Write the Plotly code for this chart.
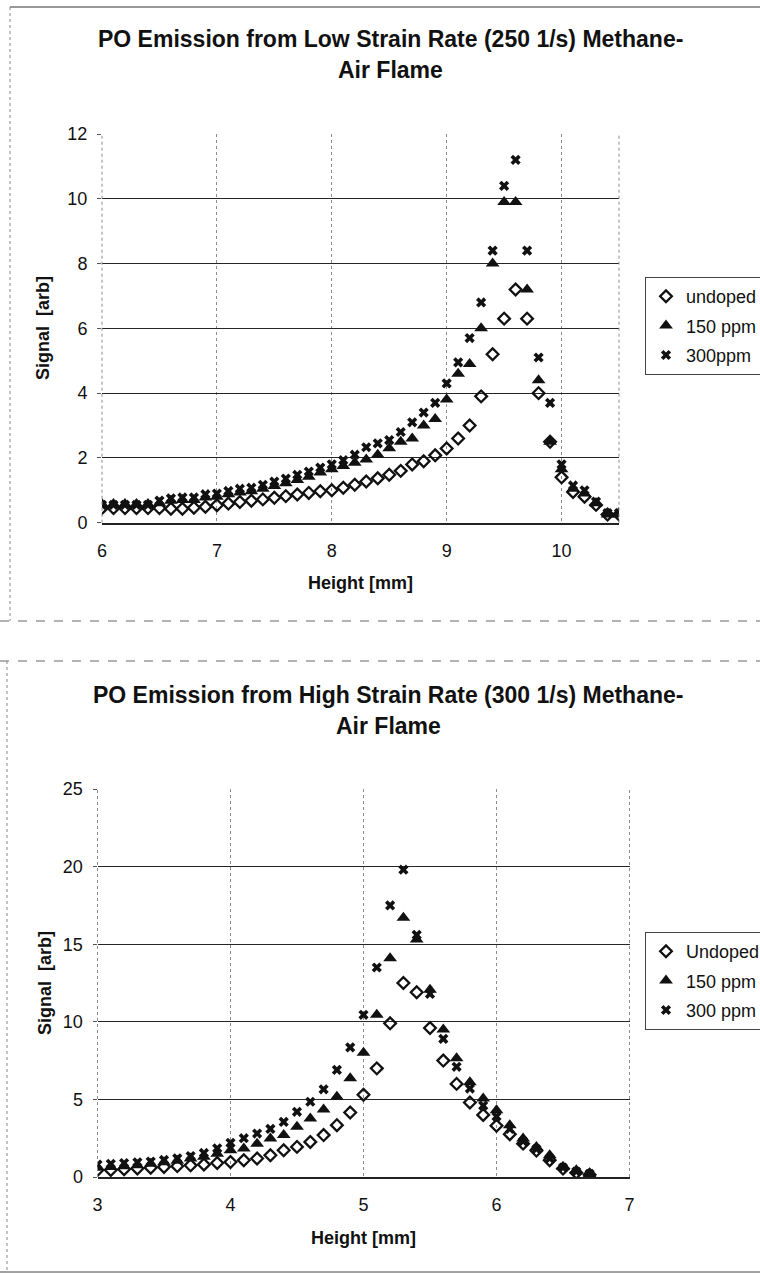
import plotly.graph_objects as go

# ---------------- data: top chart (low strain rate) ----------------
top_height = [6.0, 6.1, 6.2, 6.3, 6.4, 6.5, 6.6, 6.7, 6.8, 6.9,
              7.0, 7.1, 7.2, 7.3, 7.4, 7.5, 7.6, 7.7, 7.8, 7.9,
              8.0, 8.1, 8.2, 8.3, 8.4, 8.5, 8.6, 8.7, 8.8, 8.9,
              9.0, 9.1, 9.2, 9.3, 9.4, 9.5, 9.6, 9.7, 9.8, 9.9,
              10.0, 10.1, 10.2, 10.3, 10.4, 10.5]
top_undoped = [0.45, 0.45, 0.45, 0.45, 0.45, 0.45, 0.43, 0.43, 0.46, 0.49,
               0.54, 0.59, 0.64, 0.68, 0.72, 0.77, 0.82, 0.87, 0.92, 0.97,
               1.0, 1.08, 1.17, 1.27, 1.37, 1.48, 1.6, 1.8, 1.9, 2.08,
               2.29, 2.6, 3.0, 3.9, 5.2, 6.3, 7.2, 6.3, 4.0, 2.5,
               1.4, 0.95, 0.8, 0.55, 0.25, 0.25]
top_150 = [0.58, 0.58, 0.58, 0.58, 0.58, 0.6, 0.68, 0.7, 0.7, 0.78,
           0.8, 0.88, 0.93, 0.97, 1.05, 1.13, 1.22, 1.32, 1.42, 1.55,
           1.65, 1.75, 1.85, 1.95, 2.1, 2.3, 2.5, 2.6, 3.0, 3.2,
           3.8, 4.6, 4.9, 6.0, 8.0, 9.9, 9.9, 7.2, 4.4, 2.5,
           1.65, 1.05, 0.9, 0.6, 0.25, 0.25]
top_300 = [0.55, 0.55, 0.55, 0.55, 0.55, 0.68, 0.75, 0.78, 0.78, 0.88,
           0.9, 0.98, 1.05, 1.08, 1.17, 1.27, 1.36, 1.48, 1.58, 1.7,
           1.8, 1.93, 2.1, 2.33, 2.45, 2.55, 2.8, 3.1, 3.4, 3.7,
           4.3, 4.95, 5.7, 6.8, 8.4, 10.4, 11.2, 8.4, 5.1, 3.7,
           1.8, 1.15, 1.0, 0.65, 0.3, 0.3]
top_names = ["undoped", "150 ppm", "300ppm"]
top_xticks = [6, 7, 8, 9, 10]
top_yticks = [0, 2, 4, 6, 8, 10, 12]

# ---------------- data: bottom chart (high strain rate) ----------------
bot_height = [3.0, 3.1, 3.2, 3.3, 3.4, 3.5, 3.6, 3.7, 3.8, 3.9,
              4.0, 4.1, 4.2, 4.3, 4.4, 4.5, 4.6, 4.7, 4.8, 4.9,
              5.0, 5.1, 5.2, 5.3, 5.4, 5.5, 5.6, 5.7, 5.8, 5.9,
              6.0, 6.1, 6.2, 6.3, 6.4, 6.5, 6.6, 6.7]
bot_undoped = [0.45, 0.45, 0.5, 0.55, 0.6, 0.65, 0.7, 0.75, 0.8, 0.9,
               0.97, 1.08, 1.19, 1.4, 1.72, 1.94, 2.26, 2.7, 3.34, 4.16,
               5.3, 7.0, 9.9, 12.5, 11.9, 9.6, 7.5, 6.0, 4.8, 4.0,
               3.3, 2.76, 2.15, 1.7, 1.08, 0.54, 0.28, 0.15]
bot_150 = [0.6, 0.65, 0.7, 0.75, 0.85, 0.95, 1.05, 1.2, 1.3, 1.5,
           1.72, 1.83, 2.15, 2.48, 2.7, 3.23, 3.77, 4.35, 5.17, 6.36,
           8.0, 10.45, 14.1, 16.7, 15.3, 12.07, 9.5, 7.65, 6.1, 5.06,
           4.3, 3.34, 2.48, 1.94, 1.4, 0.65, 0.43, 0.2]
bot_300 = [0.8, 0.85, 0.9, 0.95, 1.0, 1.1, 1.2, 1.35, 1.55, 1.85,
           2.2, 2.5, 2.8, 3.1, 3.55, 4.2, 4.85, 5.65, 6.9, 8.35,
           10.45, 13.5, 17.5, 19.8, 15.6, 11.8, 8.9, 7.1, 5.7, 4.6,
           3.9, 3.1, 2.3, 1.8, 1.2, 0.6, 0.35, 0.2]
bot_names = ["Undoped", "150 ppm", "300 ppm"]
bot_xticks = [3, 4, 5, 6, 7]
bot_yticks = [0, 5, 10, 15, 20, 25]

# ---------------- styling ----------------
W, H = 760, 1273
FONT = "Arial, Liberation Sans, Helvetica, sans-serif"
INK = "#111111"

markers = [
    dict(symbol="diamond-open", size=9, color=INK, line=dict(width=2.3, color=INK)),
    dict(symbol="triangle-up", size=12, color=INK, line=dict(width=0)),
    dict(symbol="x", size=9, color=INK, line=dict(width=0)),
]


def py(px):
    return 1 - px / H


def px_x(px):
    return px / W


fig = go.Figure()

for i, (ys, nm) in enumerate(zip([top_undoped, top_150, top_300], top_names)):
    fig.add_trace(go.Scatter(x=top_height, y=ys, name=nm, mode="markers",
                             marker=markers[i], xaxis="x", yaxis="y",
                             legend="legend", legendgroup="t%d" % i))
for i, (ys, nm) in enumerate(zip([bot_undoped, bot_150, bot_300], bot_names)):
    fig.add_trace(go.Scatter(x=bot_height, y=ys, name=nm, mode="markers",
                             marker=markers[i], xaxis="x2", yaxis="y2",
                             legend="legend2", legendgroup="b%d" % i))

xcommon = dict(showgrid=True, gridcolor="#8c8c8c", griddash="dot", gridwidth=1,
               showline=True, linecolor="#222", linewidth=1.5, zeroline=False,
               ticks="", ticklabelstandoff=11,
               tickfont=dict(family=FONT, size=18, color=INK))
ycommon = dict(showgrid=True, gridcolor="#262626", gridwidth=1.4,
               showline=False, zeroline=False,
               ticks="outside", ticklen=4, tickcolor="#555",
               ticklabelstandoff=6,
               tickfont=dict(family=FONT, size=18, color=INK))

legend_common = dict(xanchor="left", yanchor="top",
                     bordercolor="#444", borderwidth=1, bgcolor="white",
                     font=dict(family=FONT, size=18, color=INK),
                     traceorder="grouped", tracegroupgap=3)

fig.update_layout(
    width=W, height=H,
    margin=dict(l=0, r=0, t=0, b=0, autoexpand=False),
    paper_bgcolor="white", plot_bgcolor="white",
    font=dict(family=FONT, color=INK),
    xaxis=dict(domain=[px_x(102), px_x(619)], range=[6, 10.5],
               tickvals=top_xticks, anchor="y", **xcommon),
    yaxis=dict(domain=[py(522.7), py(134)], range=[0, 12],
               tickvals=top_yticks, anchor="x", **ycommon),
    xaxis2=dict(domain=[px_x(97.5), px_x(629.5)], range=[3, 7],
                tickvals=bot_xticks, anchor="y2", **xcommon),
    yaxis2=dict(domain=[py(1177), py(789)], range=[0, 25],
                tickvals=bot_yticks, anchor="x2", **ycommon),
    legend=dict(x=px_x(645), y=py(277), **legend_common),
    legend2=dict(x=px_x(645), y=py(932), **legend_common),
    showlegend=True,
)

ann = []
def text(t, x, y, size, bold=True, angle=0):
    ann.append(dict(text=t, x=px_x(x), y=py(y), xref="paper", yref="paper",
                    xanchor="center", yanchor="middle", showarrow=False,
                    textangle=angle,
                    font=dict(family=FONT, size=size, color=INK,
                              weight="bold" if bold else "normal")))

text("PO Emission from Low Strain Rate (250 1/s) Methane-", 390, 39, 23)
text("Air Flame", 390, 70, 23)
text("Height [mm]", 360.5, 583, 18)
text("Signal  [arb]", 43, 328, 18, angle=-90)

text("PO Emission from High Strain Rate (300 1/s) Methane-", 388, 695, 23)
text("Air Flame", 388, 726, 23)
text("Height [mm]", 363.5, 1238, 18)
text("Signal  [arb]", 45, 983, 18, angle=-90)

fig.update_layout(annotations=ann)

shapes = []
# left and right plot-area edges (dotted, like the vertical gridlines)
for xr, yr in (("x domain", "y domain"), ("x2 domain", "y2 domain")):
    for edge in (0, 1):
        shapes.append(dict(type="line", xref=xr, yref=yr, x0=edge, x1=edge,
                           y0=0, y1=1,
                           line=dict(color="#8c8c8c", width=1, dash="dot")))
# page frame lines of the scanned figure
def hline(y, x0=0, x1=W, dash="solid", color="#555"):
    shapes.append(dict(type="line", xref="paper", yref="paper",
                       x0=px_x(x0), x1=px_x(x1), y0=py(y), y1=py(y),
                       line=dict(color=color, width=1.2, dash=dash)))
def vline(x, y0, y1, dash="dot", color="#888"):
    shapes.append(dict(type="line", xref="paper", yref="paper",
                       x0=px_x(x), x1=px_x(x), y0=py(y0), y1=py(y1),
                       line=dict(color=color, width=1, dash=dash)))

hline(7, 10, W, color="#333")
hline(621, 0, W, dash="dash", color="#666")
hline(661, 0, W, dash="dash", color="#666")
hline(1272, 0, W, color="#444")
vline(10, 7, 621)
vline(7, 661, 1272)

fig.update_layout(shapes=shapes)

fig.write_html("out.html")
